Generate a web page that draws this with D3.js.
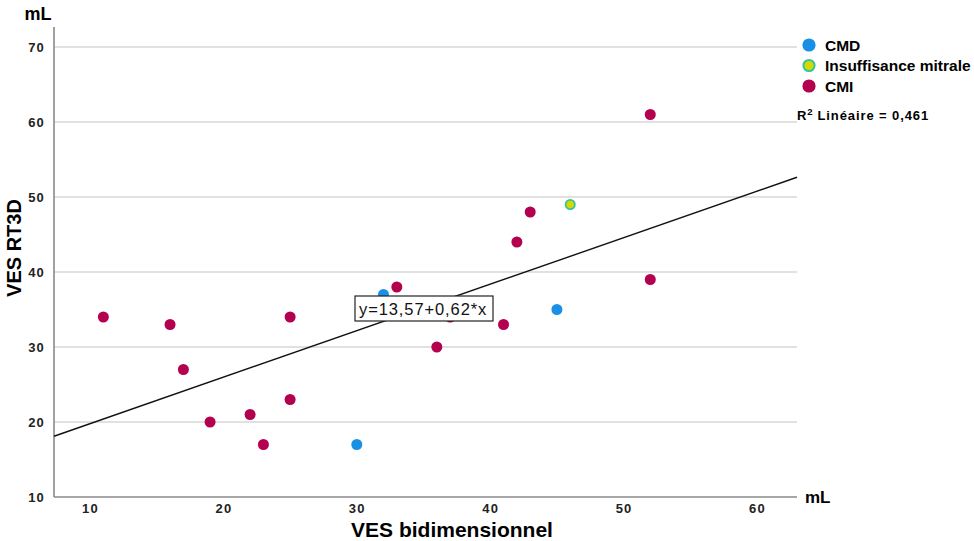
<!DOCTYPE html>
<html>
<head>
<meta charset="utf-8">
<script src="https://cdn.jsdelivr.net/npm/d3@7"></script>
<style>
  html, body { margin: 0; padding: 0; background: #fff; }
  svg { display: block; font-family: "Liberation Sans", Arial, sans-serif; }
</style>
</head>
<body>
<svg id="chart" width="974" height="541"></svg>
<script>
// Patient groups and their volumes (2D estimate vs RT3D)
const groups = ["CMD", "Insuffisance mitrale", "CMI"];
const groupColors = ["#1a8fe6", "#d6d900", "#b3004f"];

const cmdX = [32, 30, 45];
const cmdY = [37, 17, 35];
const imX = [46];
const imY = [49];
const cmiX = [11, 16, 17, 19, 22, 23, 25, 25, 33, 36, 37, 41, 42, 43, 52, 52];
const cmiY = [34, 33, 27, 20, 21, 17, 23, 34, 38, 30, 34, 33, 44, 48, 61, 39];

const xTicks = [10, 20, 30, 40, 50, 60];
const yTicks = [10, 20, 30, 40, 50, 60, 70];

// Linear fit reported by the model
const intercept = 13.57;
const slope = 0.62;
const r2Label = "0,461";
const equationLabel = "y=13,57+0,62*x";

const svg = d3.select("#chart");

const x = d3.scaleLinear().domain([7.3, 63]).range([54, 797]);
const y = d3.scaleLinear().domain([10, 70]).range([497, 47]);

// Horizontal gridlines
svg.append("g").selectAll("line")
  .data(yTicks.filter(d => d > 10))
  .join("line")
  .attr("x1", x.range()[0]).attr("x2", x.range()[1])
  .attr("y1", d => y(d)).attr("y2", d => y(d))
  .attr("stroke", "#c4c4c4").attr("stroke-width", 1.2);

// Axes (no tick marks, bold labels)
const yAxis = svg.append("g")
  .attr("transform", `translate(${x.range()[0]},0)`)
  .call(d3.axisLeft(y).tickValues(yTicks).tickSize(0).tickPadding(9).tickFormat(d3.format("d")));
yAxis.select(".domain").remove();
yAxis.selectAll("text")
  .attr("font-size", 13).attr("font-weight", "bold").attr("fill", "#222")
  .attr("letter-spacing", "1.2px").attr("font-family", "Liberation Sans, Arial, sans-serif");

const xAxis = svg.append("g")
  .attr("transform", `translate(0,${y(10)})`)
  .call(d3.axisBottom(x).tickValues(xTicks).tickSize(0).tickPadding(7).tickFormat(d3.format("d")));
xAxis.select(".domain").remove();
xAxis.selectAll("text")
  .attr("font-size", 13).attr("font-weight", "bold").attr("fill", "#222")
  .attr("letter-spacing", "1.2px").attr("font-family", "Liberation Sans, Arial, sans-serif");

// Axis lines
svg.append("line")
  .attr("x1", x.range()[0]).attr("x2", x.range()[0])
  .attr("y1", 27).attr("y2", y(10))
  .attr("stroke", "#8a8a8a").attr("stroke-width", 1.6);
svg.append("line")
  .attr("x1", x.range()[0]).attr("x2", x.range()[1])
  .attr("y1", y(10)).attr("y2", y(10))
  .attr("stroke", "#8a8a8a").attr("stroke-width", 1.6);

// Units and titles
svg.append("text").attr("x", 38).attr("y", 20)
  .attr("text-anchor", "middle").attr("font-size", 18).attr("font-weight", "bold")
  .text("mL");
svg.append("text").attr("x", 805).attr("y", 503)
  .attr("font-size", 17).attr("font-weight", "bold")
  .text("mL");
svg.append("text").attr("x", 452).attr("y", 537)
  .attr("text-anchor", "middle").attr("font-size", 21).attr("font-weight", "bold")
  .text("VES bidimensionnel");
svg.append("text")
  .attr("transform", `translate(21,248) rotate(-90)`)
  .attr("text-anchor", "middle").attr("font-size", 20).attr("font-weight", "bold")
  .text("VES RT3D");

// Regression line across the plotted x range
const [x0, x1] = x.domain();
svg.append("line")
  .attr("x1", x(x0)).attr("y1", y(intercept + slope * x0))
  .attr("x2", x(x1)).attr("y2", y(intercept + slope * x1))
  .attr("stroke", "#111").attr("stroke-width", 1.4);

// Points
const points = [];
cmdX.forEach((v, i) => points.push({ x: v, y: cmdY[i], g: 0 }));
imX.forEach((v, i) => points.push({ x: v, y: imY[i], g: 1 }));
cmiX.forEach((v, i) => points.push({ x: v, y: cmiY[i], g: 2 }));

svg.append("g").selectAll("circle")
  .data(points)
  .join("circle")
  .attr("cx", d => x(d.x)).attr("cy", d => y(d.y))
  .attr("r", d => d.g === 1 ? 4.6 : 5.5)
  .attr("fill", d => groupColors[d.g])
  .attr("stroke", d => d.g === 1 ? "#35c49c" : "none")
  .attr("stroke-width", d => d.g === 1 ? 1.8 : 0);

// Equation box placed on the fit line
const eqG = svg.append("g").attr("transform", "translate(355,296)");
eqG.append("rect").attr("width", 138).attr("height", 25)
  .attr("fill", "#fff").attr("stroke", "#222").attr("stroke-width", 1.2);
eqG.append("text").attr("x", 4).attr("y", 18.5)
  .attr("font-size", 16.5).attr("letter-spacing", "0.9px")
  .attr("font-family", "Liberation Sans, Arial, sans-serif")
  .attr("fill", "#111").text(equationLabel);

// Legend
const lg = svg.append("g").attr("transform", "translate(809,45)");
groups.forEach((g, i) => {
  const row = lg.append("g").attr("transform", `translate(0,${i * 20.5})`);
  row.append("circle").attr("r", i === 1 ? 5.6 : 6.6)
    .attr("fill", groupColors[i])
    .attr("stroke", i === 1 ? "#35c49c" : "none")
    .attr("stroke-width", i === 1 ? 2 : 0);
  row.append("text").attr("x", 16).attr("y", 5.5)
    .attr("font-size", 15.5).attr("font-weight", "bold").text(g);
});

const r2 = svg.append("text").attr("x", 797).attr("y", 120)
  .attr("font-size", 13).attr("font-weight", "bold").attr("letter-spacing", "0.9px");
r2.append("tspan").text("R");
r2.append("tspan").attr("dy", -5).attr("font-size", 9.5).text("2");
r2.append("tspan").attr("dy", 5).attr("dx", 4).text("Linéaire = " + r2Label);
</script>
</body>
</html>
